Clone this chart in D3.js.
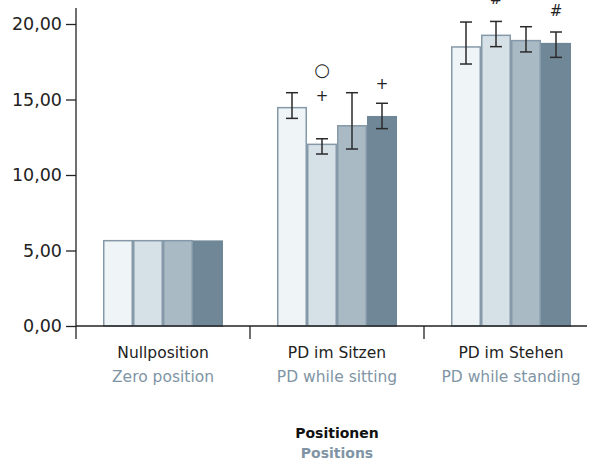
<!DOCTYPE html>
<html>
<head>
<meta charset="utf-8">
<script src="https://cdn.jsdelivr.net/npm/d3@7/dist/d3.min.js"></script>
<style>
  html, body { margin: 0; padding: 0; background: #fff; }
  svg { display: block; }
  text { font-family: "DejaVu Sans", sans-serif; }
</style>
</head>
<body>
<svg id="chart" width="595" height="462"></svg>
<script>
// Categories (German / English)
const categoriesDe = ["Nullposition", "PD im Sitzen", "PD im Stehen"];
const categoriesEn = ["Zero position", "PD while sitting", "PD while standing"];
const seriesKeys = ["s1", "s2", "s3", "s4"];

// Mean values per series, one entry per category
const meanS1 = [5.65, 14.46, 18.48];
const meanS2 = [5.65, 12.03, 19.25];
const meanS3 = [5.65, 13.26, 18.90];
const meanS4 = [5.62, 13.86, 18.70];

// Error bar bounds (lower / upper) per series; null = no error bar
const lowS1 = [null, 13.75, 17.35];
const highS1 = [null, 15.45, 20.13];
const lowS2 = [null, 11.39, 18.50];
const highS2 = [null, 12.40, 20.17];
const lowS3 = [null, 11.72, 18.15];
const highS3 = [null, 15.45, 19.82];
const lowS4 = [null, 13.07, 17.79];
const highS4 = [null, 14.75, 19.47];

// Significance markers: category index, series index, symbol, level (value units)
const markCategory = [1, 1, 1, 2, 2];
const markSeries   = [1, 1, 3, 1, 3];
const markSymbol   = ["○", "+", "+", "#", "#"];
const markLevel    = [16.95, 15.23, 16.07, 21.65, 20.86];

// Axis ticks
const yTicks = [0, 5, 10, 15, 20];
const yTickLabels = ["0,00", "5,00", "10,00", "15,00", "20,00"];

const axisTitleDe = "Positionen";
const axisTitleEn = "Positions";

const fills = ["#eff4f7", "#d5e0e7", "#a9bac5", "#6f8797"];
const greyBlue = "#7f95a5";
const ink = "#222";

const means = [meanS1, meanS2, meanS3, meanS4];
const lows = [lowS1, lowS2, lowS3, lowS4];
const highs = [highS1, highS2, highS3, highS4];

const svg = d3.select("#chart");

const x0 = d3.scaleBand().domain(d3.range(categoriesDe.length)).range([76, 598]).paddingInner(0).paddingOuter(0);
const groupWidth = 120;
const x1 = d3.scaleBand().domain(d3.range(seriesKeys.length)).range([0, groupWidth]).padding(0);
const y = d3.scaleLinear().domain([0, 20]).range([326, 24]);

const groupStart = i => x0(i) + (x0.bandwidth() - groupWidth) / 2;

// Bars
const rows = [];
categoriesDe.forEach((c, ci) => {
  seriesKeys.forEach((k, si) => {
    rows.push({ ci, si, v: means[si][ci], lo: lows[si][ci], hi: highs[si][ci] });
  });
});

svg.append("g").selectAll("rect").data(rows).join("rect")
  .attr("x", d => groupStart(d.ci) + x1(d.si) + 0.75)
  .attr("y", d => y(d.v))
  .attr("width", x1.bandwidth() - 1.5)
  .attr("height", d => y(0) - y(d.v))
  .attr("fill", d => fills[d.si])
  .attr("stroke", d => d.si === 3 ? "#6f8797" : "#8599a8")
  .attr("stroke-width", 1.5);

// Error bars
const eb = svg.append("g").attr("stroke", "#2a2a2a").attr("stroke-width", 1.5).attr("fill", "none");
rows.filter(d => d.lo !== null).forEach(d => {
  const cx = groupStart(d.ci) + x1(d.si) + x1.bandwidth() / 2;
  eb.append("line").attr("x1", cx).attr("x2", cx).attr("y1", y(d.hi)).attr("y2", y(d.lo));
  eb.append("line").attr("x1", cx - 6).attr("x2", cx + 6).attr("y1", y(d.hi)).attr("y2", y(d.hi));
  eb.append("line").attr("x1", cx - 6).attr("x2", cx + 6).attr("y1", y(d.lo)).attr("y2", y(d.lo));
});

// Markers
const marks = markSymbol.map((s, i) => ({ s, ci: markCategory[i], si: markSeries[i], lv: markLevel[i] }));
svg.append("g").selectAll("text").data(marks).join("text")
  .attr("x", d => groupStart(d.ci) + x1(d.si) + x1.bandwidth() / 2)
  .attr("y", d => y(d.lv))
  .attr("dy", "0.35em")
  .attr("text-anchor", "middle")
  .attr("font-size", d => d.s === "○" ? 18 : 15)
  .attr("fill", ink)
  .text(d => d.s);

// Y axis
const yAxis = d3.axisLeft(y).tickValues(yTicks).tickFormat((d, i) => yTickLabels[i]).tickSize(10).tickPadding(4);
const gy = svg.append("g").attr("transform", "translate(76,0)").call(yAxis);
gy.select(".domain").remove();
gy.selectAll(".tick line").attr("stroke", ink).attr("stroke-width", 1.3);
gy.selectAll(".tick text").attr("font-size", 17.5).attr("fill", ink).attr("font-family", "DejaVu Sans, sans-serif");
gy.append("line").attr("x1", 0).attr("x2", 0).attr("y1", 8).attr("y2", 339).attr("stroke", ink).attr("stroke-width", 1.3);

// X axis baseline and category separators
const gx = svg.append("g");
gx.append("line").attr("x1", 76).attr("x2", 587).attr("y1", y(0)).attr("y2", y(0)).attr("stroke", ink).attr("stroke-width", 1.3);
d3.range(1, categoriesDe.length).forEach(i => {
  gx.append("line").attr("x1", x0(i)).attr("x2", x0(i)).attr("y1", y(0)).attr("y2", 339).attr("stroke", ink).attr("stroke-width", 1.3);
});

// Category labels
const labels = svg.append("g").attr("text-anchor", "middle").attr("font-size", 15.5);
categoriesDe.forEach((c, i) => {
  const cx = x0(i) + x0.bandwidth() / 2;
  labels.append("text").attr("x", cx).attr("y", 358).attr("fill", ink).text(c);
  labels.append("text").attr("x", cx).attr("y", 382).attr("fill", greyBlue).text(categoriesEn[i]);
});

// Axis title
const titleX = x0(1) + x0.bandwidth() / 2;
svg.append("text").attr("x", titleX).attr("y", 438).attr("text-anchor", "middle")
  .attr("font-size", 14).attr("font-weight", "bold").attr("fill", "#111").text(axisTitleDe);
svg.append("text").attr("x", titleX).attr("y", 458).attr("text-anchor", "middle")
  .attr("font-size", 14).attr("font-weight", "bold").attr("fill", greyBlue).text(axisTitleEn);
</script>
</body>
</html>
